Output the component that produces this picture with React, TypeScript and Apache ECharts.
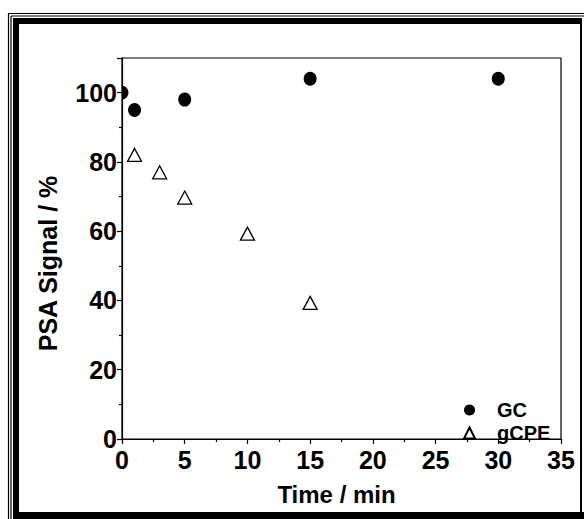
import React, { useEffect, useRef } from "react";
import * as echarts from "echarts";

const gcTime = [0, 1, 5, 15, 30];
const gcSignal = [100, 95, 98, 104, 104];
const gcpeTime = [1, 3, 5, 10, 15];
const gcpeSignal = [82, 77, 69.7, 59.3, 39.3];
const xTicks = { min: 0, max: 35, interval: 5 };
const yTicks = { min: 0, max: 110, interval: 20 };

const FONT = "'Liberation Sans', Arial, sans-serif";

// right half of an ellipse, for a point that sits on the left axis (clipped by the plot frame)
const HALF_RIGHT = "path://M0,0 A10,10 0 0,1 0,20 Z";

export default function App() {
  const ref = useRef<HTMLDivElement>(null);
  useEffect(() => {
    if (!ref.current) return;
    const chart = echarts.init(ref.current, null, { renderer: "svg" });
    const blk = "#000";
    const gcData = gcTime.map((t, i) =>
      t === xTicks.min
        ? { value: [t, gcSignal[i]], symbol: HALF_RIGHT, symbolSize: [6.5, 14], symbolOffset: [3.25, 0] }
        : { value: [t, gcSignal[i]] }
    );
    chart.setOption({
      animation: false,
      backgroundColor: "#fff",
      grid: {
        left: 122,
        top: 58,
        right: 23,
        bottom: 80,
        show: true,
        borderColor: blk,
        borderWidth: 1.2,
        backgroundColor: "transparent",
      },
      xAxis: {
        type: "value",
        min: xTicks.min,
        max: xTicks.max,
        interval: xTicks.interval,
        name: "Time / min",
        nameLocation: "middle",
        nameGap: 43,
        nameTextStyle: { fontFamily: FONT, fontWeight: "bold", fontSize: 24, color: blk, padding: [0, 10, 0, 0] },
        axisLine: { show: true, onZero: false, lineStyle: { color: blk, width: 1.2 } },
        axisTick: { show: true, inside: false, length: 5, lineStyle: { color: blk, width: 1.2 } },
        minorTick: { show: true, splitNumber: 2, length: 3, lineStyle: { color: blk, width: 1.2 } },
        axisLabel: { fontFamily: FONT, fontWeight: "bold", fontSize: 25, color: blk, margin: 8 },
        splitLine: { show: false },
      },
      yAxis: {
        type: "value",
        min: yTicks.min,
        max: yTicks.max,
        interval: yTicks.interval,
        name: "PSA Signal / %",
        nameLocation: "middle",
        nameGap: 62,
        nameRotate: 90,
        nameTextStyle: { fontFamily: FONT, fontWeight: "bold", fontSize: 25, color: blk, padding: [0, 30, 0, 0] },
        axisLine: { show: true, onZero: false, lineStyle: { color: blk, width: 1.2 } },
        axisTick: { show: true, inside: false, length: 5, lineStyle: { color: blk, width: 1.2 } },
        minorTick: { show: true, splitNumber: 2, length: 3, lineStyle: { color: blk, width: 1.2 } },
        axisLabel: { fontFamily: FONT, fontWeight: "bold", fontSize: 25, color: blk, margin: 5, showMaxLabel: false },
        splitLine: { show: false },
      },
      legend: {
        orient: "vertical",
        left: 458,
        top: 395,
        itemGap: 3,
        itemWidth: 11,
        itemHeight: 11,
        data: ["GC", "gCPE"],
        textStyle: { fontFamily: FONT, fontWeight: "bold", fontSize: 20, color: blk, padding: [0, 0, 0, 17] },
      },
      series: [
        {
          name: "GC",
          type: "scatter",
          clip: true,
          symbol: "circle",
          symbolSize: [13, 14],
          itemStyle: { color: blk, borderColor: blk, borderWidth: 0, opacity: 1 },
          data: gcData,
        },
        {
          name: "gCPE",
          type: "scatter",
          clip: true,
          symbol: "triangle",
          symbolSize: [14, 13],
          itemStyle: { color: "#fff", borderColor: blk, borderWidth: 1.3, opacity: 1 },
          data: gcpeTime.map((t, i) => [t, gcpeSignal[i]]),
        },
      ],
      graphic: [
        { type: "line", shape: { x1: 8, y1: 13.5, x2: 584, y2: 13.5 }, style: { stroke: blk, lineWidth: 1.2 } },
        { type: "line", shape: { x1: 8.5, y1: 13, x2: 8.5, y2: 519 }, style: { stroke: blk, lineWidth: 1.2 } },
        { type: "line", shape: { x1: 11, y1: 16, x2: 584, y2: 16 }, style: { stroke: blk, lineWidth: 1.2 } },
        { type: "line", shape: { x1: 11, y1: 16, x2: 11, y2: 519 }, style: { stroke: blk, lineWidth: 1.2 } },
        { type: "rect", shape: { x: 13, y: 18, width: 569, height: 6 }, style: { fill: blk } },
        { type: "rect", shape: { x: 13, y: 18, width: 6, height: 501 }, style: { fill: blk } },
        { type: "rect", shape: { x: 13, y: 512, width: 571, height: 7 }, style: { fill: blk } },
        { type: "rect", shape: { x: 580, y: 18, width: 2, height: 501 }, style: { fill: blk } },
      ],
    });
    return () => chart.dispose();
  }, []);
  return (
    <div
      ref={ref}
      style={{ position: "absolute", left: 0, top: 0, width: 584, height: 519, background: "#fff" }}
    />
  );
}
